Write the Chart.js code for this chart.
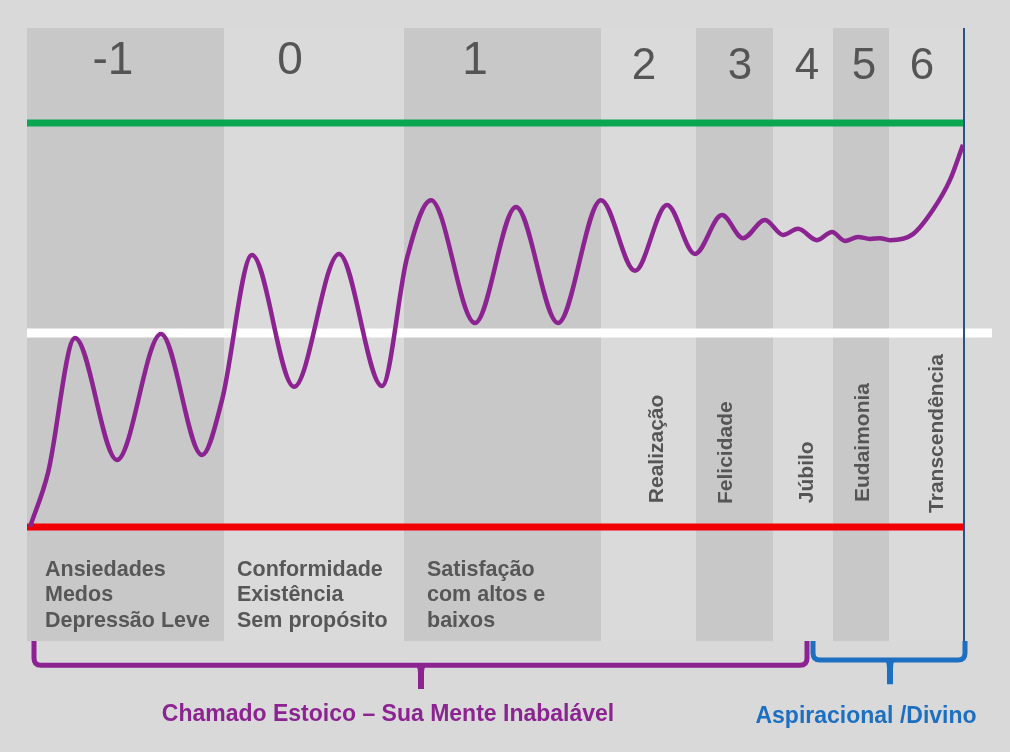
<!DOCTYPE html>
<html>
<head>
<meta charset="utf-8">
<script src="https://cdn.jsdelivr.net/npm/chart.js@4.4.1/dist/chart.umd.min.js"></script>
<style>
  body { margin: 0; background: #d9d9d9; }
  canvas { display: block; }
</style>
</head>
<body>
<canvas id="nivelChart" width="1010" height="752"></canvas>
<script>
// Níveis (faixas verticais) do diagrama
const zones = ['-1', '0', '1', '2', '3', '4', '5', '6'];
const zoneEdges = [0, 197, 377, 574, 669, 746, 806, 862, 937];
const zoneWords = ['', '', '', 'Realização', 'Felicidade', 'Júbilo', 'Eudaimonia', 'Transcendência'];
const zoneNotes = [
    ['Ansiedades', 'Medos', 'Depressão Leve'],
    ['Conformidade', 'Existência', 'Sem propósito'],
    ['Satisfação', 'com altos e', 'baixos']
];

// Curva roxa (posição horizontal, nível 0 = linha vermelha, 100 = linha verde)
const curveX = [3, 21, 48, 90, 134, 175, 195, 225, 267, 312, 355, 380, 404, 448, 489, 531, 574, 608, 640, 668,
    695, 716, 738, 756, 771, 790, 805, 818, 831, 843, 853, 863, 886, 906, 923, 936];
const curveY = [0, 13.4, 46.8, 16.6, 47.8, 17.8, 31.4, 67.3, 34.7, 67.6, 34.9, 66.6, 80.9, 50.5, 79.2, 50.5, 80.9, 63.4, 79.7, 67.6,
    77.2, 71.5, 76.0, 72.3, 73.8, 71.0, 73.0, 70.8, 71.8, 71.3, 71.5, 71.0, 72.5, 78.5, 85.9, 94.6];

// Linhas de referência: topo (verde), neutro (branca), base (vermelha)
const refLevels = [100, 48, 0];

// Grupos (chaves abaixo do gráfico)
const groups = ['Chamado Estoico – Sua Mente Inabalável', 'Aspiracional /Divino'];

// ---- layout e estilos ----
const FONT = "'Liberation Sans', Arial, Helvetica, sans-serif";
const bandDark = '#c8c8c8';
const bandLight = '#dadada';
const refColors = ['#0aa650', '#ffffff', '#f20000'];
const refWidths = [7, 9, 7];
const refEnds = [937, 965, 937];
const numX = [86, 263, 448, 617, 713, 780, 837, 895];
const numY = [112, 112, 112, 111, 111, 111, 111, 111];
const numSize = [46, 46, 46, 44, 44, 44, 44, 44];
const wordX = [0, 0, 0, 636, 705, 786, 842, 916];
const wordY = [0, 0, 0, 5.9, 5.7, 5.9, 6.2, 3.5];
const noteX = [18, 210, 400];
const noteY = -12.1;
const groupColors = ['#8b2391', '#1c6fc1'];
// x1, x2, meio, topo, barra, ponta
const braces = [
    [7, 780, 394, -28.2, -34.2, -40.1],
    [786, 938, 863, -28.2, -32.9, -38.9]
];
const captionX = [361, 839];
const captionY = [-48.0, -48.5];

const backdrop = {
    id: 'backdrop',
    beforeDatasetsDraw(chart) {
        const ctx = chart.ctx;
        const area = chart.chartArea;
        const xs = chart.scales.x, ys = chart.scales.y;
        ctx.save();
        // faixas
        for (let i = 0; i < zones.length; i++) {
            const a = xs.getPixelForValue(zoneEdges[i]);
            const b = xs.getPixelForValue(zoneEdges[i + 1]);
            ctx.fillStyle = i % 2 === 0 ? bandDark : bandLight;
            ctx.fillRect(a, area.top, b - a, area.bottom - area.top);
        }
        // números dos níveis
        ctx.fillStyle = '#555555';
        ctx.textAlign = 'center';
        ctx.textBaseline = 'alphabetic';
        zones.forEach((z, i) => {
            ctx.font = numSize[i] + 'px ' + FONT;
            ctx.fillText(z, xs.getPixelForValue(numX[i]), ys.getPixelForValue(numY[i]));
        });
        // textos verticais
        ctx.font = 'bold 21px ' + FONT;
        ctx.textAlign = 'left';
        zoneWords.forEach((w, i) => {
            if (!w) return;
            ctx.save();
            ctx.translate(xs.getPixelForValue(wordX[i]), ys.getPixelForValue(wordY[i]));
            ctx.rotate(-Math.PI / 2);
            ctx.fillText(w, 0, 0);
            ctx.restore();
        });
        // notas abaixo da linha vermelha
        ctx.font = 'bold 21.5px ' + FONT;
        ctx.fillStyle = '#575757';
        zoneNotes.forEach((lines, i) => {
            lines.forEach((t, j) => {
                ctx.fillText(t, xs.getPixelForValue(noteX[i]), ys.getPixelForValue(noteY) + j * 25.5);
            });
        });
        ctx.restore();
    },
    afterDraw(chart) {
        const ctx = chart.ctx;
        const area = chart.chartArea;
        const xs = chart.scales.x, ys = chart.scales.y;
        ctx.save();
        // linha azul vertical à direita
        ctx.strokeStyle = '#2d4f8f';
        ctx.lineWidth = 2;
        ctx.beginPath();
        ctx.moveTo(xs.getPixelForValue(937), area.top);
        ctx.lineTo(xs.getPixelForValue(937), area.bottom);
        ctx.stroke();
        // chaves
        braces.forEach((b, i) => {
            const x1 = xs.getPixelForValue(b[0]), x2 = xs.getPixelForValue(b[1]);
            const xm = xs.getPixelForValue(b[2]);
            const yTop = ys.getPixelForValue(b[3]), yBar = ys.getPixelForValue(b[4]), yTip = ys.getPixelForValue(b[5]);
            const r = 7;
            ctx.strokeStyle = groupColors[i];
            ctx.fillStyle = groupColors[i];
            ctx.lineWidth = 5;
            ctx.beginPath();
            ctx.moveTo(x1, yTop);
            ctx.lineTo(x1, yBar - r);
            ctx.quadraticCurveTo(x1, yBar, x1 + r, yBar);
            ctx.lineTo(x2 - r, yBar);
            ctx.quadraticCurveTo(x2, yBar, x2, yBar - r);
            ctx.lineTo(x2, yTop);
            ctx.stroke();
            ctx.beginPath();
            ctx.moveTo(xm - 8, yBar - 2);
            ctx.quadraticCurveTo(xm - 3, yBar, xm - 3, yBar + 8);
            ctx.lineTo(xm - 3, yTip);
            ctx.lineTo(xm + 3, yTip);
            ctx.lineTo(xm + 3, yBar + 8);
            ctx.quadraticCurveTo(xm + 3, yBar, xm + 8, yBar - 2);
            ctx.closePath();
            ctx.fill();
            ctx.font = 'bold 23px ' + FONT;
            ctx.textAlign = 'center';
            ctx.textBaseline = 'alphabetic';
            ctx.fillText(groups[i], xs.getPixelForValue(captionX[i]), ys.getPixelForValue(captionY[i]));
        });
        ctx.restore();
    }
};

const datasets = [{
    data: curveX.map((x, i) => ({ x: x, y: curveY[i] })),
    borderColor: '#8b2391',
    borderWidth: 4.5,
    cubicInterpolationMode: 'monotone',
    pointRadius: 0,
    clip: false
}];
refLevels.forEach((lv, i) => {
    datasets.push({
        data: [{ x: 0, y: lv }, { x: refEnds[i], y: lv }],
        borderColor: refColors[i],
        borderWidth: refWidths[i],
        pointRadius: 0,
        clip: false
    });
});

new Chart(document.getElementById('nivelChart'), {
    type: 'line',
    data: { datasets: datasets },
    options: {
        responsive: false,
        animation: false,
        events: [],
        layout: { padding: { left: 27, right: 46, top: 28, bottom: 111 } },
        plugins: { legend: { display: false }, tooltip: { enabled: false } },
        scales: {
            x: { type: 'linear', min: 0, max: 937, display: false },
            y: { min: -28.2, max: 123.5, display: false }
        }
    },
    plugins: [backdrop]
});
</script>
</body>
</html>
